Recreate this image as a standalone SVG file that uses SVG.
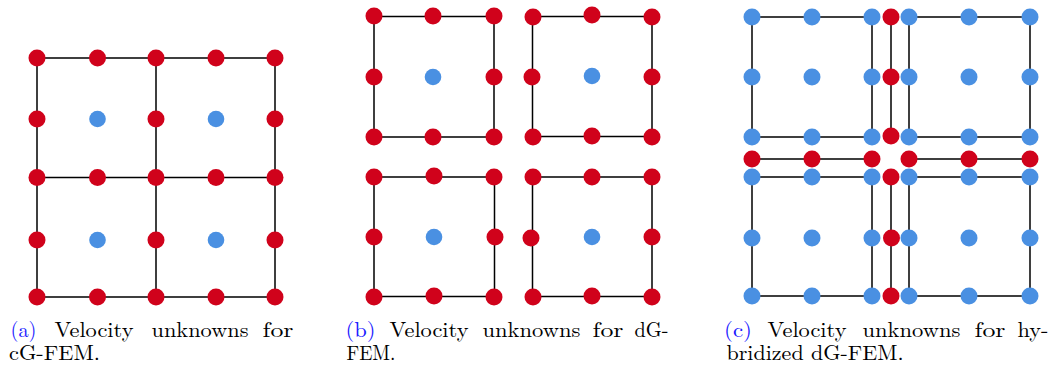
<svg xmlns="http://www.w3.org/2000/svg" width="1051" height="365" viewBox="0 0 1051 365">
<style>
.r{fill:#D0021B}
.b{fill:#4A90E2}
.e{stroke:#000;stroke-width:1.5;fill:none;stroke-linejoin:miter}
.t{font-family:"Latin Modern Roman","CMU Serif","Liberation Serif","DejaVu Serif",serif;font-size:21px;fill:#000}
.l{fill:#1a1aff}
</style>
<rect width="1051" height="365" fill="#fff"/>
<g id="connectors">
  <path class="e" d="M37 58H275V297H37Z M156 58V297 M37 177.5H275"/>
  <path class="e" d="M374 16.5H494V137H374Z M532.5 16.5H652V136.5H532.5Z M374 177H494.5V296.5H374Z M532.5 177H652V296.5H532.5Z"/>
  <path class="e" d="M752 17H872V137H752Z M909 17H1030V137H909Z M752 177H872V296H752Z M909 177H1030V296H909Z"/>
  <path class="e" d="M891 17V136 M891 177V296 M752 159H872 M909 159H1030"/>
</g>
<g id="panel-a">
  <g id="a-nodes">
    <circle class="r" cx="37" cy="58" r="8.5"/><circle class="r" cx="97.5" cy="58" r="8.5"/><circle class="r" cx="156" cy="58" r="8.5"/><circle class="r" cx="216" cy="58" r="8.5"/><circle class="r" cx="275" cy="58" r="8.5"/>
    <circle class="r" cx="37" cy="119" r="8.5"/><circle class="b" cx="97.5" cy="119" r="8.3"/><circle class="r" cx="156" cy="119" r="8.5"/><circle class="b" cx="216" cy="119" r="8.3"/><circle class="r" cx="275" cy="119" r="8.5"/>
    <circle class="r" cx="37" cy="177.5" r="8.5"/><circle class="r" cx="97.5" cy="177.5" r="8.5"/><circle class="r" cx="156" cy="177.5" r="8.5"/><circle class="r" cx="216" cy="177.5" r="8.5"/><circle class="r" cx="275" cy="177.5" r="8.5"/>
    <circle class="r" cx="37" cy="240" r="8.5"/><circle class="b" cx="97.5" cy="240" r="8.3"/><circle class="r" cx="156" cy="240" r="8.5"/><circle class="b" cx="216" cy="240" r="8.3"/><circle class="r" cx="275" cy="240" r="8.5"/>
    <circle class="r" cx="37" cy="297" r="8.5"/><circle class="r" cx="97.5" cy="297" r="8.5"/><circle class="r" cx="156" cy="297" r="8.5"/><circle class="r" cx="216" cy="297" r="8.5"/><circle class="r" cx="275" cy="297" r="8.5"/>
  </g>
  <text class="t"><tspan class="l" x="10.5" y="337" textLength="26" lengthAdjust="spacingAndGlyphs">(a)</tspan><tspan x="54.5" y="337" textLength="79" lengthAdjust="spacingAndGlyphs">Velocity</tspan><tspan x="151.5" y="337" textLength="97" lengthAdjust="spacingAndGlyphs">unknowns</tspan><tspan x="262.5" y="337" textLength="31" lengthAdjust="spacingAndGlyphs">for</tspan><tspan x="9" y="360" textLength="91" lengthAdjust="spacingAndGlyphs">cG-FEM.</tspan></text>
</g>
<g id="panel-b">
  <g id="b-cell-tl">
    <circle class="r" cx="374" cy="16" r="8.5"/><circle class="r" cx="433" cy="16" r="8.5"/><circle class="r" cx="494" cy="16" r="8.5"/>
    <circle class="r" cx="374" cy="77" r="8.5"/><circle class="b" cx="433" cy="77" r="8.3"/><circle class="r" cx="494" cy="77" r="8.5"/>
    <circle class="r" cx="374" cy="137" r="8.5"/><circle class="r" cx="433" cy="137" r="8.5"/><circle class="r" cx="494" cy="137" r="8.5"/>
  </g>
  <g id="b-cell-tr">
    <circle class="r" cx="533" cy="17" r="8.5"/><circle class="r" cx="592" cy="15" r="8.5"/><circle class="r" cx="652" cy="17" r="8.5"/>
    <circle class="r" cx="532" cy="77" r="8.5"/><circle class="b" cx="592" cy="76" r="8.3"/><circle class="r" cx="652" cy="77" r="8.5"/>
    <circle class="r" cx="533" cy="137" r="8.5"/><circle class="r" cx="592" cy="136" r="8.5"/><circle class="r" cx="652" cy="137" r="8.5"/>
  </g>
  <g id="b-cell-bl">
    <circle class="r" cx="374" cy="177" r="8.5"/><circle class="r" cx="434" cy="176" r="8.5"/><circle class="r" cx="494" cy="177" r="8.5"/>
    <circle class="r" cx="374" cy="237" r="8.5"/><circle class="b" cx="434" cy="237" r="8.3"/><circle class="r" cx="495" cy="237" r="8.5"/>
    <circle class="r" cx="374" cy="297" r="8.5"/><circle class="r" cx="434" cy="296" r="8.5"/><circle class="r" cx="494" cy="297" r="8.5"/>
  </g>
  <g id="b-cell-br">
    <circle class="r" cx="533" cy="177" r="8.5"/><circle class="r" cx="592" cy="177" r="8.5"/><circle class="r" cx="652" cy="177" r="8.5"/>
    <circle class="r" cx="531" cy="238" r="8.5"/><circle class="b" cx="592" cy="237" r="8.3"/><circle class="r" cx="652" cy="237" r="8.5"/>
    <circle class="r" cx="533" cy="297" r="8.5"/><circle class="r" cx="592" cy="296" r="8.5"/><circle class="r" cx="652" cy="297" r="8.5"/>
  </g>
  <text class="t"><tspan class="l" x="345.5" y="337" textLength="30" lengthAdjust="spacingAndGlyphs">(b)</tspan><tspan x="389.5" y="337" textLength="79" lengthAdjust="spacingAndGlyphs">Velocity</tspan><tspan x="482.5" y="337" textLength="98" lengthAdjust="spacingAndGlyphs">unknowns</tspan><tspan x="592.5" y="337" textLength="31" lengthAdjust="spacingAndGlyphs">for</tspan><tspan x="634.5" y="337" textLength="34" lengthAdjust="spacingAndGlyphs">dG-</tspan><tspan x="346.5" y="360" textLength="49" lengthAdjust="spacingAndGlyphs">FEM.</tspan></text>
</g>
<g id="panel-c">
  <g id="c-cell-tl">
    <circle class="b" cx="752" cy="17" r="8.5"/><circle class="b" cx="812" cy="17" r="8.5"/><circle class="b" cx="872" cy="17" r="8.5"/>
    <circle class="b" cx="752" cy="77" r="8.5"/><circle class="b" cx="812" cy="77" r="8.5"/><circle class="b" cx="872" cy="77" r="8.5"/>
    <circle class="b" cx="752" cy="137" r="8.5"/><circle class="b" cx="812" cy="137" r="8.5"/><circle class="b" cx="872" cy="137" r="8.5"/>
  </g>
  <g id="c-cell-tr">
    <circle class="b" cx="909" cy="17" r="8.5"/><circle class="b" cx="969" cy="17" r="8.5"/><circle class="b" cx="1030" cy="17" r="8.5"/>
    <circle class="b" cx="909" cy="77" r="8.5"/><circle class="b" cx="969" cy="77" r="8.5"/><circle class="b" cx="1030" cy="77" r="8.5"/>
    <circle class="b" cx="909" cy="137" r="8.5"/><circle class="b" cx="969" cy="137" r="8.5"/><circle class="b" cx="1030" cy="137" r="8.5"/>
  </g>
  <g id="c-cell-bl">
    <circle class="b" cx="752" cy="177" r="8.5"/><circle class="b" cx="812" cy="177" r="8.5"/><circle class="b" cx="872" cy="177" r="8.5"/>
    <circle class="b" cx="752" cy="238" r="8.5"/><circle class="b" cx="812" cy="238" r="8.5"/><circle class="b" cx="872" cy="238" r="8.5"/>
    <circle class="b" cx="752" cy="296" r="8.5"/><circle class="b" cx="812" cy="296" r="8.5"/><circle class="b" cx="872" cy="296" r="8.5"/>
  </g>
  <g id="c-cell-br">
    <circle class="b" cx="909" cy="177" r="8.5"/><circle class="b" cx="969" cy="177" r="8.5"/><circle class="b" cx="1030" cy="177" r="8.5"/>
    <circle class="b" cx="909" cy="238" r="8.5"/><circle class="b" cx="969" cy="238" r="8.5"/><circle class="b" cx="1030" cy="238" r="8.5"/>
    <circle class="b" cx="909" cy="296" r="8.5"/><circle class="b" cx="969" cy="296" r="8.5"/><circle class="b" cx="1030" cy="296" r="8.5"/>
  </g>
  <g id="c-facet-top">
    <circle class="r" cx="891" cy="17" r="8.5"/><circle class="r" cx="891" cy="77" r="8.5"/><circle class="r" cx="891" cy="136" r="8.5"/>
  </g>
  <g id="c-facet-bottom">
    <circle class="r" cx="891" cy="177" r="8.5"/><circle class="r" cx="891.5" cy="238" r="8.5"/><circle class="r" cx="891" cy="296" r="8.5"/>
  </g>
  <g id="c-facet-left">
    <circle class="r" cx="752" cy="159" r="8.5"/><circle class="r" cx="812" cy="159" r="8.5"/><circle class="r" cx="872" cy="159" r="8.5"/>
  </g>
  <g id="c-facet-right">
    <circle class="r" cx="909" cy="159" r="8.5"/><circle class="r" cx="969" cy="159" r="8.5"/><circle class="r" cx="1030" cy="159" r="8.5"/>
  </g>
  <text class="t"><tspan class="l" x="724" y="337" textLength="28" lengthAdjust="spacingAndGlyphs">(c)</tspan><tspan x="767.5" y="337" textLength="79" lengthAdjust="spacingAndGlyphs">Velocity</tspan><tspan x="862.5" y="337" textLength="98" lengthAdjust="spacingAndGlyphs">unknowns</tspan><tspan x="974.5" y="337" textLength="31" lengthAdjust="spacingAndGlyphs">for</tspan><tspan x="1017.5" y="337" textLength="31" lengthAdjust="spacingAndGlyphs">hy-</tspan><tspan x="726.5" y="360" textLength="177" lengthAdjust="spacingAndGlyphs">bridized dG-FEM.</tspan></text>
</g>
</svg>
